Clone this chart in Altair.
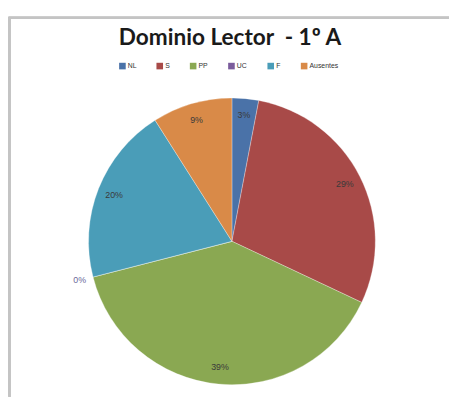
import altair as alt
import pandas as pd

categories = ["NL", "S", "PP", "UC", "F", "Ausentes"]
values = [3, 29, 39, 0, 20, 9]
labels = ["3%", "29%", "39%", "0%", "20%", "9%"]
colors = ["#4a72a8", "#a84a48", "#8aa852", "#7a5c9c", "#4a9db8", "#d98a48"]

df = pd.DataFrame({"cat": categories, "value": values, "label": labels,
                   "idx": list(range(len(categories)))})

W, H = 449, 392
CX, CY = 228, 234
R = 146

base = alt.Chart(df).transform_calculate(
    lab_in="datum.value > 0 ? datum.label : ''",
    lab_out="datum.value == 0 ? datum.label : ''",
).encode(
    theta=alt.Theta("value:Q", stack=True),
    order=alt.Order("idx:Q"),
)

pie = base.mark_arc(outerRadius=R, stroke="#ffffff", strokeWidth=0.3).encode(
    x=alt.value(CX), y=alt.value(CY),
    color=alt.Color("cat:N", sort=categories,
                    scale=alt.Scale(domain=categories, range=colors),
                    legend=alt.Legend(title=None, orient="none", legendX=113, legendY=52,
                                      direction="horizontal", columns=6,
                                      symbolType="square", symbolSize=45,
                                      symbolStrokeWidth=0,
                                      labelFontSize=7, labelColor="#333333",
                                      labelFont="Liberation Sans",
                                      columnPadding=20, symbolOffset=0,
                                      labelOffset=2)),
)

txt_in = base.mark_text(radius=R - 17, fontSize=9, font="Liberation Sans",
                        color="#3a3a3a").encode(
    x=alt.value(CX), y=alt.value(CY), text="lab_in:N",
)

txt_out = base.mark_text(radius=R + 14, fontSize=9, font="Liberation Sans",
                         color="#6a6a9a").encode(
    x=alt.value(CX), y=alt.value(CY), text="lab_out:N",
)

title = alt.Chart(pd.DataFrame({"t": ["Dominio Lector\u00a0\u00a0- 1º A"]})).mark_text(
    fontSize=23, fontWeight="bold", font="Lato", color="#1a1a1a",
    baseline="middle", align="center"
).encode(x=alt.value(226), y=alt.value(27), text="t:N")

border_left = alt.Chart(df).mark_rule(color="#c4c4c4", strokeWidth=2.5).encode(
    x=alt.value(1.5), y=alt.value(6), y2=alt.value(H))
border_top = alt.Chart(df).mark_rule(color="#c4c4c4", strokeWidth=2.5).encode(
    x=alt.value(0.5), x2=alt.value(W), y=alt.value(6.5))

chart = alt.layer(border_left, border_top, pie, txt_in, txt_out, title).properties(
    width=W, height=H, padding=0, autosize="none"
).configure_view(stroke=None)

chart.save("out.html", embed_options={"renderer": "svg", "actions": False})
